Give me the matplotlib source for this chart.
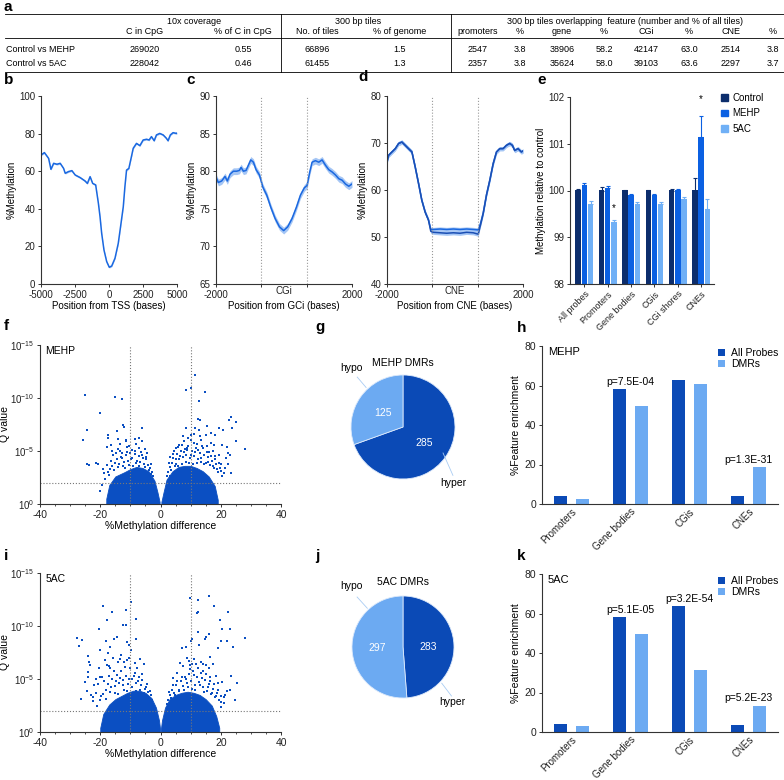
"""
Multi-panel methylation figure: summary table (a), profiles (b-d),
relative methylation bars (e), volcano plots, DMR pies and enrichment bars (f-k)
"""
import numpy as np
import matplotlib
matplotlib.use('Agg')
import matplotlib.pyplot as plt
from matplotlib.lines import Line2D
from matplotlib.patches import Patch
from matplotlib.ticker import MultipleLocator

plt.rcParams['font.family'] = ['Liberation Sans', 'DejaVu Sans']
plt.rcParams['mathtext.fontset'] = 'custom'
plt.rcParams['mathtext.rm'] = 'Liberation Sans'
plt.rcParams['axes.linewidth'] = 0.8
plt.rcParams['axes.unicode_minus'] = False

W, H = 784, 780
FS = 7

# ---------------- data ----------------
# table (a)
tab_groups = ['10x coverage', '300 bp tiles',
              '300 bp tiles overlapping  feature (number and % of all tiles)']
tab_cols = ['C in CpG', '% of C in CpG', 'No. of tiles', '% of genome', 'promoters',
            '%', 'gene', '%', 'CGi', '%', 'CNE', '%']
tab_rows = ['Control vs MEHP', 'Control vs 5AC']
tab_mehp = ['269020', '0.55', '66896', '1.5', '2547', '3.8', '38906', '58.2',
            '42147', '63.0', '2514', '3.8']
tab_5ac = ['228042', '0.46', '61455', '1.3', '2357', '3.8', '35624', '58.0',
           '39103', '63.6', '2297', '3.7']

# profile around TSS (b)
tss_pos = [-5000, -4750, -4440, -4270, -4070, -3830, -3590, -3340, -3220, -2980,
           -2730, -2490, -2120, -1760, -1590, -1390, -1200, -980, -780, -660,
           -540, -370, -170, 20, 200, 440, 680, 850, 1050, 1170,
           1290, 1460, 1660, 1780, 2020, 2270, 2510, 2760, 2950, 3120,
           3320, 3490, 3730, 3980, 4220, 4340, 4510, 4710, 4950, 5000]
tss_meth = [68.6, 69.9, 66.8, 61.0, 64.2, 63.7, 64.2, 61.5, 58.9, 59.8,
            60.3, 58.0, 56.6, 54.8, 53.5, 57.1, 53.5, 52.7, 42.9, 35.8,
            27.0, 18.1, 11.9, 8.9, 9.6, 13.7, 21.6, 30.5, 41.1, 51.8,
            60.6, 61.5, 68.1, 72.2, 74.8, 73.6, 76.6, 77.0, 76.6, 78.4,
            76.2, 79.3, 80.1, 79.3, 77.5, 76.2, 79.3, 80.5, 80.1, 80.3]

# profile around CGi (c)
cgi_pos = [-2000, -1931, -1833, -1735, -1666, -1587, -1489, -1391, -1312, -1263,
           -1194, -1116, -1047, -978, -900, -821, -723, -624, -506, -388,
           -260, -133, -10, 108, 236, 364, 482, 600, 678, 757,
           826, 924, 1022, 1120, 1219, 1317, 1415, 1514, 1612, 1710,
           1808, 1906, 2000]
cgi_meth = [79.2, 78.5, 78.7, 79.3, 78.7, 79.6, 80.0, 80.0, 80.1, 80.5,
            80.0, 80.1, 80.8, 81.5, 81.2, 80.2, 79.5, 77.9, 76.8, 75.2,
            73.7, 72.6, 72.1, 72.6, 73.7, 75.2, 76.8, 77.8, 78.1, 79.9,
            81.2, 81.4, 81.2, 81.5, 80.8, 80.2, 79.9, 79.5, 79.0, 78.8,
            78.3, 78.0, 78.3]
cgi_edges = [-670, 670]

# profile around CNE (d), two traces
cne_pos = [-2000, -1951, -1854, -1756, -1659, -1561, -1463, -1366, -1268, -1171,
           -1073, -976, -878, -780, -712, -634, -439, -244, -49, 146,
           341, 536, 683, 751, 829, 927, 1024, 1122, 1220, 1317,
           1415, 1512, 1610, 1688, 1756, 1854, 1951, 2000]
cne_meth_a = [66.0, 67.4, 68.1, 68.8, 69.9, 70.2, 69.5, 68.8, 68.1, 64.9,
              61.4, 57.8, 55.3, 53.6, 51.6, 51.6, 51.7, 51.6, 51.7, 51.6,
              51.7, 51.6, 51.5, 52.9, 55.1, 59.0, 62.1, 65.6, 68.1, 68.8,
              68.8, 69.5, 69.9, 69.5, 68.4, 68.8, 68.1, 68.3]
cne_meth_b = [66.0, 67.4, 68.1, 68.8, 69.9, 70.2, 69.5, 68.8, 68.1, 64.9,
              61.4, 57.8, 55.3, 53.6, 51.2, 51.0, 50.9, 50.8, 50.9, 50.8,
              51.0, 50.9, 50.6, 52.6, 55.0, 59.0, 62.1, 65.6, 68.1, 68.8,
              68.8, 69.5, 69.9, 69.5, 68.4, 68.8, 68.1, 68.3]
cne_edges = [-670, 680]

# relative methylation (e)
feat_e = ['All probes', 'Promoters', 'Gene bodies', 'CGis', 'CGi shores', 'CNEs']
ctrl_val = [100.0, 100.0, 100.0, 100.0, 100.0, 100.0]
ctrl_err = [0.03, 0.08, 0.01, 0.01, 0.03, 0.26]
mehp_val = [100.11, 100.06, 99.90, 99.90, 100.01, 101.15]
mehp_err = [0.06, 0.04, 0.02, 0.02, 0.03, 0.45]
ac_val = [99.72, 99.33, 99.71, 99.71, 99.81, 99.60]
ac_err = [0.05, 0.03, 0.04, 0.04, 0.05, 0.21]

# volcano MEHP (f): %methylation difference and -log10(Q), outlying points
mehp_diff = [-24.9, -15.0, -12.8, -20.2, -24.5, -12.3, -12.1, -14.4, -6.2, -25.6,
             -17.4, -17.4, -17.9, -14.1, -11.4, -11.6, -8.6, -7.2, -24.3, -23.7,
             -21.5, -20.8, -16.0, -12.9, -5.3, -4.9,
             -17.5, -16.8, -16.0, -15.2, -14.5, -13.8, -13.0, -12.2, -11.5, -10.8,
             -10.0, -9.3, -8.6, -8.0, -7.3, -6.7, -6.0, -5.4, -4.7, -4.0,
             -3.4, -2.8, -14.0, -11.0, -9.5, -7.0, -18.5, -19.5, -20.0, -12.5,
             -15.8, -3.0,
             11.4, 8.5, 10.1, 14.7, 12.8, 23.3, 12.5, 13.0, 22.8, 24.9,
             8.3, 11.3, 12.8, 15.5, 19.4, 20.8, 23.7, 7.5, 10.2, 11.0,
             13.2, 15.0, 16.8, 18.1, 25.1, 28.1, 20.5, 22.2, 22.5, 23.1,
             23.3, 22.5, 16.6, 17.7, 5.9, 8.7,
             2.5, 3.0, 3.7, 4.3, 5.0, 5.5, 6.2, 6.8, 7.4, 8.0,
             8.6, 9.2, 9.8, 10.5, 11.0, 11.7, 12.3, 13.0, 13.6, 14.3,
             15.0, 15.7, 16.3, 17.0, 17.6, 18.3, 19.0, 19.6, 20.4, 21.0,
             6.0, 7.8, 10.0, 12.0, 14.0, 16.0, 18.0, 4.5, 3.3, 20.0]
mehp_nlq = [10.3, 10.1, 9.9, 8.6, 7.0, 7.5, 7.3, 6.9, 7.2, 6.0,
            6.5, 6.2, 5.4, 6.1, 6.0, 5.9, 6.1, 6.2, 3.8, 3.7,
            3.9, 3.8, 5.0, 4.8, 5.2, 4.4,
            3.0, 3.3, 3.6, 3.9, 4.2, 3.8, 4.4, 4.0, 4.6, 4.1,
            4.8, 4.3, 4.7, 3.9, 4.5, 4.0, 4.6, 3.8, 4.2, 3.7,
            3.4, 3.0, 5.2, 5.4, 5.1, 5.3, 2.4, 1.8, 1.2, 3.6,
            4.6, 2.8,
            12.2, 10.8, 10.9, 10.6, 9.7, 8.2, 8.0, 7.9, 7.9, 7.7,
            7.2, 7.2, 7.0, 7.4, 7.2, 7.0, 7.2, 6.4, 6.5, 6.6,
            6.4, 6.5, 6.7, 6.5, 5.9, 5.2, 5.6, 5.4, 4.8, 4.6,
            2.9, 3.8, 5.8, 5.6, 5.4, 5.3,
            3.0, 3.5, 3.9, 4.3, 3.8, 4.7, 4.2, 5.0, 4.4, 5.2,
            4.6, 5.5, 4.3, 5.0, 4.5, 5.3, 4.2, 4.8, 4.0, 4.6,
            3.9, 4.4, 3.7, 4.1, 3.4, 3.8, 3.0, 3.4, 2.6, 2.9,
            5.6, 5.9, 6.0, 5.7, 5.3, 4.9, 4.5, 5.0, 4.4, 3.8]
# MEHP points just above the dense cloud
mehp_halo_diff = [-18.8, -17.9, -17.2, -16.4, -15.6, -14.9, -14.2, -13.4, -12.7, -11.9,
                  -11.2, -10.5, -9.8, -9.1, -8.3, -7.7, -7.0, -6.4, -5.7, -5.1,
                  -4.4, -3.7, -3.1, -2.4, -16.5, -13.6, -10.3, -8.2, -6.0, -19.0,
                  2.0, 2.8, 3.5, 4.0, 4.8, 5.3, 5.8, 6.5, 7.1, 7.7,
                  8.3, 8.9, 9.5, 10.2, 10.8, 11.4, 12.0, 12.6, 13.3, 13.9,
                  14.6, 15.3, 15.9, 16.6, 17.3, 18.0, 18.7, 19.4, 20.2, 21.5,
                  9.0, 11.0, 13.5, 15.5, 17.5, 19.5, 5.2, 7.0, 21.8, 3.0]
mehp_halo_nlq = [2.9, 3.7, 2.7, 4.1, 3.2, 4.8, 3.5, 5.0, 4.3, 3.4,
                 4.9, 3.7, 4.2, 3.6, 5.0, 4.1, 3.6, 4.9, 4.3, 3.5,
                 4.8, 3.2, 3.8, 2.6, 5.6, 5.7, 5.5, 5.7, 5.9, 3.3,
                 2.6, 3.9, 3.2, 4.7, 3.6, 4.2, 3.6, 4.5, 3.8, 4.9,
                 4.0, 5.1, 3.9, 4.6, 3.8, 4.9, 3.9, 5.1, 4.3, 5.5,
                 3.8, 4.9, 4.0, 4.5, 3.6, 4.2, 3.3, 3.9, 3.1, 3.4,
                 6.2, 5.8, 6.0, 5.5, 5.0, 4.6, 5.3, 5.6, 4.3, 2.6]
# upper edge of the dense cloud (MEHP)
mehp_core_lx = [-18.0, -17.0, -15.0, -12.0, -10.0, -8.0, -6.0, -4.0, -2.0, -1.0, -0.3]
mehp_core_ly = [0.5, 1.8, 2.6, 3.0, 3.3, 3.5, 3.4, 3.1, 2.2, 1.1, 0.2]
mehp_core_rx = [0.3, 1.0, 2.0, 4.0, 6.0, 8.0, 10.0, 12.0, 14.0, 16.0, 18.0, 19.0]
mehp_core_ry = [0.2, 1.1, 2.3, 3.1, 3.5, 3.6, 3.6, 3.4, 3.1, 2.6, 1.7, 0.4]

# volcano 5AC (i)
ac_diff = [-19.2, -16.2, -11.4, -9.8, -17.9, -12.3, -11.4, -8.0, -20.3, -27.7,
           -25.9, -27.2, -18.1, -15.3, -14.5, -11.2, -10.6, -8.2, -24.0, -16.8,
           -17.3, -20.1, -6.9, -13.4, -12.1, -23.7, -23.5, -21.5, -20.1, -24.0,
           -24.0, -26.3, -22.3, -17.9, -16.8, -9.8, -5.6,
           -21.0, -20.0, -19.0, -18.2, -17.5, -16.8, -16.0, -15.2, -14.5, -13.8,
           -13.0, -12.3, -11.6, -10.8, -10.0, -9.3, -8.6, -8.0, -7.3, -6.6,
           -6.0, -5.3, -4.6, -4.0, -3.3, -2.7, -19.5, -17.0, -14.0, -11.0,
           -8.5, -22.0, -23.0, -12.0, -15.0,
           9.8, 12.3, 16.2, 17.9, 22.3, 12.5, 12.1, 19.7, 12.3, 20.3,
           23.2, 16.2, 15.1, 14.7, 10.1, 10.6, 22.1, 20.1, 28.2, 24.2,
           19.2, 7.3, 8.4, 12.8, 16.5, 9.8, 10.4, 14.0, 15.1, 23.5,
           25.5, 24.6, 21.5, 20.1, 17.3,
           2.5, 3.2, 3.9, 4.6, 5.3, 6.0, 6.7, 7.4, 8.0, 8.7,
           9.3, 10.0, 10.7, 11.3, 12.0, 12.7, 13.3, 14.0, 14.7, 15.3,
           16.0, 16.6, 17.3, 18.0, 18.7, 19.5, 20.2, 21.0, 5.5, 7.5,
           9.5, 11.8, 14.0, 16.5, 19.0, 4.2, 22.0]
ac_nlq = [11.9, 11.3, 11.5, 12.3, 10.6, 10.1, 10.1, 10.7, 9.7, 8.9,
          8.7, 8.1, 8.6, 8.8, 9.0, 8.5, 8.2, 8.8, 7.2, 8.0,
          7.5, 7.7, 6.9, 6.9, 6.6, 6.6, 6.3, 5.0, 5.2, 5.7,
          5.2, 3.1, 3.3, 6.3, 6.0, 7.7, 6.4,
          2.5, 3.0, 3.6, 4.0, 4.5, 3.8, 5.0, 4.3, 5.4, 4.6,
          5.8, 4.9, 5.3, 4.5, 6.0, 5.0, 5.6, 4.6, 5.2, 4.4,
          4.9, 4.1, 4.5, 3.8, 3.5, 3.0, 5.2, 6.2, 6.6, 6.8,
          6.5, 4.4, 3.5, 4.0, 3.7,
          12.6, 12.5, 12.8, 11.9, 11.3, 11.3, 11.2, 10.6, 9.4, 9.7,
          9.7, 9.2, 9.0, 8.8, 8.6, 8.8, 8.6, 8.6, 8.9, 8.0,
          7.9, 7.9, 8.0, 8.2, 7.1, 6.3, 6.4, 6.4, 6.3, 5.3,
          4.6, 3.0, 3.5, 2.4, 6.4,
          3.0, 3.5, 4.0, 3.7, 4.4, 4.0, 4.8, 4.3, 5.2, 4.6,
          5.5, 4.8, 5.8, 4.4, 5.2, 4.7, 5.6, 4.2, 4.9, 3.9,
          4.5, 3.6, 4.1, 3.3, 3.7, 3.0, 3.4, 2.7, 5.6, 6.2,
          6.7, 6.4, 5.8, 5.2, 4.6, 5.1, 3.9]
ac_halo_diff = [-22.5, -21.5, -20.6, -19.8, -18.8, -18.0, -17.2, -16.4, -15.6, -14.8,
                -14.1, -13.4, -12.6, -11.9, -11.2, -10.4, -9.6, -8.9, -8.2, -7.6,
                -6.9, -6.3, -5.6, -4.9, -4.3, -3.6, -2.9, -20.5, -18.5, -15.8,
                -13.0, -10.5, -7.8, -24.5, -25.2,
                2.0, 2.8, 3.5, 4.2, 4.9, 5.6, 6.3, 7.0, 7.7, 8.4,
                9.0, 9.7, 10.4, 11.0, 11.6, 12.3, 13.0, 13.7, 14.4, 15.0,
                15.7, 16.3, 17.0, 17.7, 18.4, 19.2, 20.0, 21.2, 6.5, 8.8,
                11.0, 13.5, 16.0, 18.5, 20.5, 23.0]
ac_halo_nlq = [2.9, 3.7, 4.5, 3.4, 4.8, 3.1, 5.3, 4.2, 5.8, 4.8,
               3.6, 5.1, 4.4, 6.1, 3.9, 5.0, 4.2, 5.3, 3.9, 4.8,
               4.0, 5.5, 3.7, 4.2, 3.3, 3.9, 2.7, 6.0, 6.8, 7.0,
               7.3, 7.0, 6.0, 3.9, 4.7,
               2.6, 3.8, 3.2, 4.4, 3.5, 4.8, 3.9, 5.2, 4.0, 5.0,
               4.2, 5.9, 4.1, 5.4, 4.0, 6.0, 4.4, 5.1, 3.8, 5.5,
               4.2, 4.8, 3.7, 4.5, 3.4, 4.0, 2.8, 3.3, 6.5, 7.0,
               6.9, 6.6, 6.0, 5.3, 4.7, 4.0]
ac_core_lx = [-20.0, -19.0, -17.0, -15.0, -13.0, -11.0, -9.0, -7.0, -5.0, -3.0, -1.5, -0.5, -0.1]
ac_core_ly = [0.4, 1.7, 2.6, 3.1, 3.4, 3.7, 3.9, 3.9, 3.7, 3.2, 2.3, 1.1, 0.2]
ac_core_rx = [0.1, 0.5, 1.5, 3.0, 5.0, 7.0, 9.0, 11.0, 13.0, 15.0, 17.0, 18.5, 19.5]
ac_core_ry = [0.2, 1.1, 2.3, 3.1, 3.5, 3.7, 3.8, 3.7, 3.5, 3.1, 2.5, 1.5, 0.4]

# DMR counts (g, j)
dmr_labels = ['hyper', 'hypo']
mehp_dmr = [285, 125]
ac_dmr = [283, 297]

# feature enrichment (h, k)
feat_hk = ['Promoters', 'Gene bodies', 'CGis', 'CNEs']
mehp_all = [3.8, 58.2, 63.0, 3.8]
mehp_dmrs = [2.3, 49.8, 60.8, 18.6]
mehp_pvals = {1: 'p=7.5E-04', 3: 'p=1.3E-31'}
ac_all = [3.8, 58.0, 63.6, 3.7]
ac_dmrs = [2.8, 49.5, 31.6, 13.4]
ac_pvals = {1: 'p=5.1E-05', 2: 'p=3.2E-54', 3: 'p=5.2E-23'}

# colours
LINE = '#1a68e0'
BAND = '#a5c6f5'
DOT = '#0b4fc2'
DARK = '#0b4ab6'
LIGHT = '#6caaf2'
C_CTRL, C_MEHP, C_5AC = '#0c2d6c', '#0b60e2', '#70b0f6'

fig = plt.figure(figsize=(W / 100, H / 100), dpi=100)


def px_axes(x0, y0, x1, y1):
    return fig.add_axes([x0 / W, 1 - y1 / H, (x1 - x0) / W, (y1 - y0) / H])


def ftext(x, y, s, **kw):
    kw.setdefault('fontsize', FS)
    return fig.text(x / W, 1 - y / H, s, **kw)


def hline(x0, x1, y, lw=0.6):
    fig.add_artist(Line2D([x0 / W, x1 / W], [1 - y / H] * 2,
                          transform=fig.transFigure, color='k', lw=lw))


def vline(x, y0, y1, lw=0.6):
    fig.add_artist(Line2D([x / W] * 2, [1 - y0 / H, 1 - y1 / H],
                          transform=fig.transFigure, color='k', lw=lw))


def prism(ax, size=FS):
    for s in ['top', 'right']:
        ax.spines[s].set_visible(False)
    for s in ['left', 'bottom']:
        ax.spines[s].set_color('#333333')
    ax.tick_params(which='both', direction='out', length=2.5, width=0.7,
                   labelsize=size, colors='#333333', labelcolor='#222222', pad=1.5)


def panel(x, y, s):
    ftext(x, y, s, fontsize=11, fontweight='bold', va='center', ha='left')


# ---------------- a: table ----------------
panel(4, 7, 'a')
col_x = [145, 243, 317, 400, 478, 520, 562, 604, 646, 689, 731, 773]
hline(5, 784, 14)
hline(5, 784, 38)
hline(5, 784, 72)
vline(281, 14, 72)
vline(451, 14, 72)
for gx, g in zip([194, 358, 625], tab_groups):
    ftext(gx, 21, g, ha='center', va='center', fontsize=6.5)
for cx, c in zip(col_x, tab_cols):
    ftext(cx, 32, c, ha='center', va='center', fontsize=6.5)
for ry, lab, vals in zip([49, 63], tab_rows, [tab_mehp, tab_5ac]):
    ftext(6, ry, lab, ha='left', va='center', fontsize=6.5)
    for cx, v in zip(col_x, vals):
        ftext(cx, ry, v, ha='center', va='center', fontsize=6.5)


# ---------------- b, c, d: profiles ----------------
def profile(ax, pos, meth, color=LINE):
    pos = np.asarray(pos, float)
    meth = np.asarray(meth, float)
    ax.fill_between(pos, meth - 0.45, meth + 0.45, color=BAND, lw=0)
    ax.plot(pos, meth, color=color, lw=1.1)


panel(4, 80, 'b')
ax_b = px_axes(41, 96, 177, 284)
profile(ax_b, tss_pos, tss_meth)
ax_b.set_xlim(-5000, 5000)
ax_b.set_ylim(0, 100)
ax_b.set_xticks([-5000, -2500, 0, 2500, 5000])
ax_b.set_yticks([0, 20, 40, 60, 80, 100])
ax_b.set_xlabel('Position from TSS (bases)', fontsize=FS, labelpad=1)
ax_b.set_ylabel('%Methylation', fontsize=FS, labelpad=2)
prism(ax_b)

panel(186, 80, 'c')
ax_c = px_axes(216, 96, 352, 284)
profile(ax_c, cgi_pos, cgi_meth)
for e in cgi_edges:
    ax_c.axvline(e, color='#999999', ls=':', lw=0.8)
ax_c.set_xlim(-2000, 2000)
ax_c.set_ylim(65, 90)
ax_c.set_xticks([-2000, cgi_edges[0], cgi_edges[1], 2000], ['-2000', '', '', '2000'])
ax_c.set_xticks([0], ['CGi'], minor=True)
ax_c.set_yticks([65, 70, 75, 80, 85, 90])
ax_c.set_xlabel('Position from GCi (bases)', fontsize=FS, labelpad=1)
ax_c.set_ylabel('%Methylation', fontsize=FS, labelpad=2)
prism(ax_c)
ax_c.tick_params(axis='x', which='minor', length=0)

panel(358, 77, 'd')
ax_d = px_axes(387, 96, 523, 284)
profile(ax_d, cne_pos, cne_meth_a)
profile(ax_d, cne_pos, cne_meth_b, color='#1b4fb4')
for e in cne_edges:
    ax_d.axvline(e, color='#999999', ls=':', lw=0.8)
ax_d.set_xlim(-2000, 2000)
ax_d.set_ylim(40, 80)
ax_d.set_xticks([-2000, cne_edges[0], cne_edges[1], 2000], ['-2000', '', '', '2000'])
ax_d.set_xticks([0], ['CNE'], minor=True)
ax_d.set_yticks([40, 50, 60, 70, 80])
ax_d.set_xlabel('Position from CNE (bases)', fontsize=FS, labelpad=1)
ax_d.set_ylabel('%Methylation', fontsize=FS, labelpad=2)
prism(ax_d)
ax_d.tick_params(axis='x', which='minor', length=0)

# ---------------- e: relative methylation bars ----------------
panel(537, 80, 'e')
ax_e = px_axes(570, 97, 714, 284)
xe = np.arange(len(feat_e))
bw = 0.23
for off, vals, errs, col in [(-0.27, ctrl_val, ctrl_err, C_CTRL),
                             (0.0, mehp_val, mehp_err, C_MEHP),
                             (0.27, ac_val, ac_err, C_5AC)]:
    vals = np.asarray(vals)
    ax_e.bar(xe + off, vals - 98, bottom=98, width=bw, color=col, lw=0)
    ax_e.errorbar(xe + off, vals, yerr=[np.zeros(len(vals)), errs], fmt='none',
                  ecolor=col, elinewidth=0.8, capsize=1.6, capthick=0.8)
ax_e.text(1 + 0.27, 99.63, '*', ha='center', va='center', fontsize=7)
ax_e.text(5, 101.95, '*', ha='center', va='center', fontsize=7)
ax_e.set_xlim(-0.62, 5.55)
ax_e.set_ylim(98, 102)
ax_e.set_yticks([98, 99, 100, 101, 102])
ax_e.set_xticks(xe, feat_e, rotation=45, ha='right', rotation_mode='anchor')
ax_e.set_ylabel('Methylation relative to control', fontsize=FS, labelpad=2)
prism(ax_e)
ax_e.tick_params(axis='x', labelsize=6.5)
ax_e.legend([Patch(color=c) for c in [C_CTRL, C_MEHP, C_5AC]], ['Control', 'MEHP', '5AC'],
            loc='upper left', bbox_to_anchor=(721 / W, 1 - 93 / H),
            bbox_transform=fig.transFigure, frameon=False, fontsize=FS,
            handlelength=0.7, handleheight=0.7, labelspacing=0.55,
            handletextpad=0.5, borderpad=0, borderaxespad=0)


# ---------------- volcano plots ----------------
def volcano(ax, diff, nlq, hdiff, hnlq, lx, ly, rx, ry, name):
    ax.fill_between(lx, 0, ly, color=DOT, lw=0.6, edgecolor=DOT)
    ax.fill_between(rx, 0, ry, color=DOT, lw=0.6, edgecolor=DOT)
    ax.scatter(diff, nlq, s=4.5, color=DOT, lw=0, marker='s')
    ax.scatter(hdiff, hnlq, s=4.5, color=DOT, lw=0, marker='s')
    for v in [-10, 10]:
        ax.axvline(v, color='#777777', ls=':', lw=0.8)
    ax.axhline(2, color='#777777', ls=':', lw=0.8)
    ax.set_xlim(-40, 40)
    ax.set_ylim(0, 15)
    ax.set_xticks([-40, -20, 0, 20, 40])
    ax.xaxis.set_minor_locator(MultipleLocator(5))
    ax.set_yticks([0, 5, 10, 15],
                  [r'$\mathregular{10^{0}}$', r'$\mathregular{10^{-5}}$',
                   r'$\mathregular{10^{-10}}$', r'$\mathregular{10^{-15}}$'])
    ax.set_xlabel('%Methylation difference', fontsize=FS + 0.5, labelpad=1)
    ax.set_ylabel('Q value', fontsize=FS + 0.5)
    ax.yaxis.set_label_coords(-0.125, 0.5)
    ax.text(0.022, 0.96, name, transform=ax.transAxes, ha='left', va='center',
            fontsize=FS + 0.5)
    prism(ax, FS + 0.5)
    ax.tick_params(axis='y', labelsize=FS)
    ax.tick_params(which='minor', length=1.5, width=0.6)


panel(4, 326, 'f')
ax_f = px_axes(40, 345, 281, 504)
volcano(ax_f, mehp_diff, mehp_nlq, mehp_halo_diff, mehp_halo_nlq,
        mehp_core_lx, mehp_core_ly, mehp_core_rx, mehp_core_ry, 'MEHP')

panel(4, 556, 'i')
ax_i = px_axes(40, 573, 281, 732)
volcano(ax_i, ac_diff, ac_nlq, ac_halo_diff, ac_halo_nlq,
        ac_core_lx, ac_core_ly, ac_core_rx, ac_core_ry, '5AC')


# ---------------- pies ----------------
def dmr_pie(ax, counts, title, ttl_y, num_pos, hypo_lab, hypo_line, hyper_lab, hyper_line):
    ax.pie(counts, colors=[DARK, LIGHT], startangle=90, counterclock=False,
           wedgeprops=dict(edgecolor='#dce9fb', linewidth=0.6))
    ax.set_xlim(-1, 1)
    ax.set_ylim(-1, 1)
    ax.set_aspect('equal')
    ax.text(0, ttl_y, title, ha='center', va='center', fontsize=FS + 0.5)
    for (x, y), n in zip(num_pos, counts):
        ax.text(x, y, str(n), ha='center', va='center', fontsize=FS + 0.5, color='white')
    ax.text(*hypo_lab, dmr_labels[1], ha='center', va='center', fontsize=FS + 0.5)
    ax.text(*hyper_lab, dmr_labels[0], ha='center', va='center', fontsize=FS + 0.5)
    for (x0, y0, x1, y1) in [hypo_line, hyper_line]:
        ax.add_line(Line2D([x0, x1], [y0, y1], color='#a9ccf3', lw=0.6, clip_on=False))


panel(315, 327, 'g')
ax_g = px_axes(351, 375, 455, 479)
dmr_pie(ax_g, mehp_dmr, 'MEHP DMRs', 1.24, [(0.4, -0.31), (-0.38, 0.27)],
        (-1.0, 1.13), (-0.88, 0.96, -0.71, 0.76), (0.96, -1.08), (0.77, -0.5, 0.96, -0.93))

panel(315, 556, 'j')
ax_j = px_axes(352, 596, 454, 698)
dmr_pie(ax_j, ac_dmr, '5AC DMRs', 1.27, [(0.49, 0.0), (-0.5, -0.02)],
        (-1.02, 1.2), (-0.9, 0.98, -0.7, 0.76), (0.96, -1.08), (0.76, -0.71, 0.95, -0.96))


# ---------------- enrichment bars ----------------
def enrich(ax, all_v, dmr_v, pvals, name):
    xk = np.arange(len(feat_hk))
    ax.bar(xk - 0.185, all_v, width=0.22, color=DARK, lw=0, label='All Probes')
    ax.bar(xk + 0.185, dmr_v, width=0.22, color=LIGHT, lw=0, label='DMRs')
    for k, p in pvals.items():
        ax.text(k, max(all_v[k], dmr_v[k]) + 1.2, p, ha='center', va='bottom',
                fontsize=FS + 0.5)
    ax.set_xlim(-0.5, 3.5)
    ax.set_ylim(0, 80)
    ax.set_yticks([0, 20, 40, 60, 80])
    ax.set_xticks(xk, feat_hk, rotation=45, ha='right', rotation_mode='anchor')
    ax.set_ylabel('%Feature enrichment', fontsize=FS + 0.5, labelpad=3)
    ax.text(0.025, 0.965, name, transform=ax.transAxes, ha='left', va='center',
            fontsize=FS + 1)
    prism(ax, FS + 0.5)
    ax.tick_params(axis='x', length=0, pad=2, labelsize=FS)
    ax.legend(loc='upper right', bbox_to_anchor=(1.0, 0.985), frameon=False,
              fontsize=FS + 0.5, handlelength=0.7, handleheight=0.7,
              labelspacing=0.1, handletextpad=0.5, borderpad=0, borderaxespad=0)


panel(517, 328, 'h')
ax_h = px_axes(542, 346, 778, 504)
enrich(ax_h, mehp_all, mehp_dmrs, mehp_pvals, 'MEHP')

panel(517, 556, 'k')
ax_k = px_axes(542, 574, 778, 732)
enrich(ax_k, ac_all, ac_dmrs, ac_pvals, '5AC')

fig.savefig('out.png', dpi=100)
